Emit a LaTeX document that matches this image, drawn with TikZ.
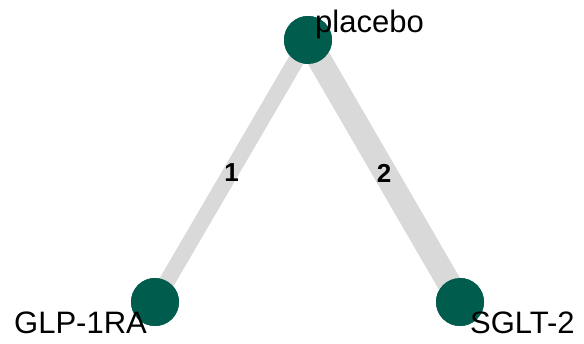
\documentclass[tikz,border=0pt]{standalone}
\usepackage{fontspec}
\setmainfont{Liberation Sans}
\usetikzlibrary{positioning}
\definecolor{TrtGreen}{RGB}{0,92,76}
\definecolor{EdgeGray}{RGB}{217,217,217}
\tikzset{
  trtnode/.style={circle,fill=TrtGreen,minimum size=48pt,inner sep=0pt},
  trtlabel/.style={anchor=base west,inner sep=0pt,font=\fontsize{31}{33}\selectfont},
  netedge/.style={draw=EdgeGray,line cap=butt},
  nlabel/.style={font=\fontsize{26}{28}\selectfont\bfseries,inner sep=1pt,yshift=-2pt},
}

\begin{document}
\begin{tikzpicture}[x=1pt,y=1pt]
  \useasboundingbox (0,0) rectangle (584,343);
  \node[trtnode] (pla) at (308,303) {};
  \node[trtnode] (glp) at (155,41) {};
  \node[trtnode] (sglt) at (460,41) {};
  \draw[netedge,line width=16pt] (pla.center) -- node[nlabel] (n1) {1} (glp.center);
  \draw[netedge,line width=24pt] (pla.center) -- node[nlabel] (n2) {2} (sglt.center);
  \node[trtnode] at (pla) {};
  \node[trtnode] at (glp) {};
  \node[trtnode] at (sglt) {};
  \node[trtlabel] (lpla) at (315,310) {placebo};
  \node[trtlabel] (lglp) at (14,10) {GLP-1RA};
  \node[trtlabel] (lsglt) at (470,10) {SGLT-2};
\end{tikzpicture}
\end{document}
